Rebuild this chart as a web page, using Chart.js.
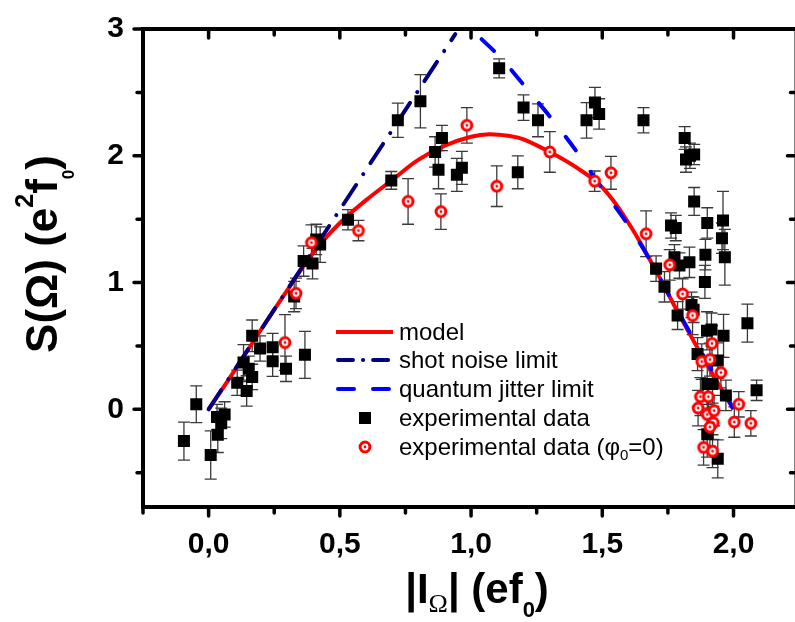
<!DOCTYPE html>
<html>
<head>
<meta charset="utf-8">
<title>S(Omega) vs |I_Omega|</title>
<script src="https://cdn.jsdelivr.net/npm/chart.js@4.4.1/dist/chart.umd.min.js"></script>
<style>
    html, body { margin: 0; padding: 0; background: #fff; overflow: hidden; }
    #wrap { width: 805px; height: 622px; }
</style>
</head>
<body>
<div id="wrap"><canvas id="noiseChart" width="805" height="622"></canvas></div>
<script>
// experimental data (black squares)
const expX = [-0.094, -0.047, 0.008, 0.035, 0.032, 0.048, 0.061, 0.109, 0.145, 0.133, 0.153, 0.166, 0.166, 0.196, 0.244, 0.244, 0.295, 0.367, 0.326, 0.362, 0.396, 0.425, 0.41,
    0.531, 0.696, 0.721, 0.807, 0.863, 0.889, 0.876, 0.946, 0.965, 1.107, 1.20, 1.255, 1.178, 1.44, 1.472, 1.488, 1.657,
    1.814, 1.819, 1.834, 1.85, 1.85, 1.762, 1.78, 1.90, 1.96, 1.956, 1.967, 1.893, 1.891, 1.705, 1.737, 1.775, 1.794, 1.832,
    1.787, 1.84, 1.848, 1.899, 1.916, 1.962, 2.053, 1.863, 1.94, 1.90, 1.92, 1.971, 2.088, 1.90, 1.94];
const expY = [-0.25, 0.04, -0.36, -0.20, -0.06, -0.11, -0.04, 0.21, 0.145, 0.37, 0.32, 0.256, 0.58, 0.48, 0.49, 0.38, 0.32, 0.43, 0.89, 1.17, 1.15, 1.30, 1.34,
    1.496, 1.806, 2.28, 2.43, 2.03, 2.14, 1.89, 1.85, 1.905, 2.69, 2.38, 2.28, 1.87, 2.28, 2.42, 2.33, 2.28,
    2.14, 1.97, 2.00, 2.01, 1.64, 1.45, 1.43, 1.47, 1.49, 1.35, 1.20, 1.22, 1.005, 1.11, 0.967, 1.20, 1.134, 1.16,
    0.74, 0.824, 0.785, 0.62, 0.63, 0.58, 0.68, 0.436, 0.385, 0.20, 0.20, 0.11, 0.15, -0.196, -0.39];
const expErr = [0.15, 0.145, 0.19, 0.14, 0.10, 0.12, 0.10, 0.10, 0.12, 0.14, 0.10, 0.10, 0.125, 0.10, 0.11, 0.12, 0.10, 0.185, 0.12, 0.12, 0.12, 0.14, 0.12,
    0.08, 0.07, 0.135, 0.21, 0.12, 0.10, 0.15, 0.13, 0.13, 0.075, 0.10, 0.13, 0.13, 0.14, 0.12, 0.12, 0.10,
    0.09, 0.10, 0.10, 0.08, 0.11, 0.10, 0.10, 0.12, 0.23, 0.12, 0.22, 0.12, 0.13, 0.10, 0.12, 0.10, 0.10, 0.12,
    0.11, 0.10, 0.10, 0.15, 0.13, 0.17, 0.15, 0.13, 0.14, 0.16, 0.15, 0.12, 0.08, 0.18, 0.15];

// experimental data with phi0 = 0 (red targets)
const zeroX = [0.291, 0.333, 0.392, 0.571, 0.76, 0.885, 0.984, 1.098, 1.30, 1.471, 1.533, 1.667, 1.757, 1.806, 1.844, 1.918,
    1.879, 1.91, 1.952, 1.874, 1.904, 1.865, 1.90, 1.926, 1.923, 1.91, 2.02, 2.003, 2.066, 1.886, 1.92];
const zeroY = [0.527, 0.915, 1.315, 1.41, 1.64, 1.56, 2.24, 1.76, 2.03, 1.80, 1.866, 1.385, 1.14, 0.91, 0.74, 0.52,
    0.377, 0.393, 0.29, 0.10, 0.10, 0.01, -0.04, -0.01, -0.106, -0.14, 0.04, -0.10, -0.11, -0.30, -0.33];
const zeroErr = [0.22, 0.12, 0.14, 0.08, 0.18, 0.14, 0.14, 0.16, 0.16, 0.08, 0.13, 0.18, 0.12, 0.12, 0.15, 0.14,
    0.14, 0.13, 0.12, 0.15, 0.12, 0.14, 0.15, 0.12, 0.13, 0.15, 0.10, 0.12, 0.10, 0.14, 0.13];

// model curve
const modelX = [0, 0.1, 0.2, 0.3, 0.4, 0.5, 0.6, 0.7, 0.8, 0.9, 1.0, 1.07, 1.15, 1.2, 1.3, 1.4, 1.5, 1.6, 1.7, 1.8, 1.9, 2.0];
const modelY = [0, 0.31, 0.63, 0.94, 1.24, 1.47, 1.65, 1.81, 1.97, 2.08, 2.15, 2.17, 2.155, 2.13, 2.03, 1.91, 1.75, 1.47, 1.11, 0.72, 0.35, 0];

// shot noise limit
const shotX = [0, 0.94];
const shotY = [0, 2.96];

// quantum jitter limit
const jitterX = [1.04, 1.11, 1.2, 1.3, 1.4, 1.5, 1.6, 1.67, 1.76, 1.83, 1.9, 1.96, 2.0];
const jitterY = [2.92, 2.78, 2.56, 2.31, 2.04, 1.74, 1.45, 1.22, 0.88, 0.62, 0.37, 0.15, 0];

// axis ticks
const xMajorTicks = [0, 0.5, 1, 1.5, 2];
const xMinorTicks = [-0.25, 0.25, 0.75, 1.25, 1.75];
const yMajorTicks = [0, 1, 2, 3];
const yMinorTicks = [-0.5, 0.5, 1.5, 2.5];

const SANS = "'Liberation Sans', Arial, sans-serif";

function toPoints(xs, ys) {
    return xs.map((x, i) => ({ x: x, y: ys[i] }));
}

// red target marker
function makeTarget() {
    const c = document.createElement('canvas');
    c.width = 16; c.height = 16;
    const g = c.getContext('2d');
    g.beginPath();
    g.arc(8, 8, 4.9, 0, Math.PI * 2);
    g.fillStyle = '#fff';
    g.fill();
    g.lineWidth = 3;
    g.strokeStyle = '#ff0000';
    g.stroke();
    g.beginPath();
    g.arc(8, 8, 1.4, 0, Math.PI * 2);
    g.fillStyle = '#ff0000';
    g.fill();
    return c;
}
const targetMarker = makeTarget();

// draws a run of text pieces with different fonts / offsets
function drawRich(ctx, parts, x, y) {
    let total = 0;
    parts.forEach(p => { ctx.font = p.font; total += ctx.measureText(p.t).width; });
    let cx = x - total / 2;
    ctx.textBaseline = 'alphabetic';
    ctx.textAlign = 'left';
    parts.forEach(p => {
        ctx.font = p.font;
        ctx.fillText(p.t, cx, y + (p.dy || 0));
        cx += ctx.measureText(p.t).width;
    });
}

const errorBars = {
    id: 'errorBars',
    beforeDatasetsDraw(chart) {
        const ctx = chart.ctx, xs = chart.scales.x, ys = chart.scales.y, a = chart.chartArea;
        ctx.save();
        ctx.beginPath();
        ctx.rect(a.left, a.top, a.right - a.left, a.bottom - a.top);
        ctx.clip();
        ctx.strokeStyle = '#3a3a3a';
        ctx.lineWidth = 1.3;
        chart.data.datasets.forEach(ds => {
            if (!ds.errors) return;
            ds.data.forEach((p, i) => {
                const px = xs.getPixelForValue(p.x);
                const top = ys.getPixelForValue(p.y + ds.errors[i]);
                const bot = ys.getPixelForValue(p.y - ds.errors[i]);
                ctx.beginPath();
                ctx.moveTo(px, top); ctx.lineTo(px, bot);
                ctx.moveTo(px - 6, top); ctx.lineTo(px + 6, top);
                ctx.moveTo(px - 6, bot); ctx.lineTo(px + 6, bot);
                ctx.stroke();
            });
        });
        ctx.restore();
    }
};

const frameAndText = {
    id: 'frameAndText',
    afterDatasetsDraw(chart) {
        const ctx = chart.ctx, xs = chart.scales.x, ys = chart.scales.y, a = chart.chartArea;
        ctx.save();
        ctx.strokeStyle = '#000';
        ctx.lineWidth = 4;
        ctx.strokeRect(a.left, a.top, a.right - a.left, a.bottom - a.top);

        // tick marks: outward on bottom/left, inward on top/right
        ctx.lineCap = 'round';
        ctx.lineWidth = 3.5;
        ctx.beginPath();
        const xt = xMajorTicks.map(v => [v, 9]).concat(xMinorTicks.map(v => [v, 6]));
        xt.forEach(([v, len]) => {
            const px = xs.getPixelForValue(v);
            ctx.moveTo(px, a.bottom); ctx.lineTo(px, a.bottom + len);
            ctx.moveTo(px, a.top); ctx.lineTo(px, a.top + len);
        });
        const yt = yMajorTicks.map(v => [v, 9]).concat(yMinorTicks.map(v => [v, 6]));
        yt.forEach(([v, len]) => {
            const py = ys.getPixelForValue(v);
            ctx.moveTo(a.left, py); ctx.lineTo(a.left - len, py);
            ctx.moveTo(a.right, py); ctx.lineTo(a.right - len, py);
        });
        ctx.stroke();
        ctx.restore();
    },
    afterDraw(chart) {
        const ctx = chart.ctx;
        const B42 = 'bold 42px ' + SANS;
        const B44 = 'bold 44px ' + SANS;
        ctx.save();
        ctx.fillStyle = '#000';

        // x axis title
        drawRich(ctx, [
            { t: '|I', font: B42 },
            { t: 'Ω', font: "26px 'Liberation Serif', serif", dy: 9 },
            { t: '| (ef', font: B42 },
            { t: '0', font: 'bold 22px ' + SANS, dy: 14 },
            { t: ')', font: B42 }
        ], 477, 603);

        // y axis title
        ctx.save();
        ctx.translate(57, 254);
        ctx.rotate(-Math.PI / 2);
        drawRich(ctx, [
            { t: 'S(Ω) (e', font: B44 },
            { t: '2', font: 'bold 25px ' + SANS, dy: -24 },
            { t: 'f', font: B44 },
            { t: '0', font: 'bold 17px ' + SANS, dy: 17 },
            { t: ')', font: B44 }
        ], 0, 0);
        ctx.restore();

        // legend
        const lx0 = 336, lx1 = 393, tx = 399;
        const rows = [332, 360, 389, 418, 447];
        ctx.lineWidth = 4;
        ctx.lineCap = 'butt';
        ctx.strokeStyle = '#ff0000';
        ctx.beginPath(); ctx.moveTo(lx0, rows[0]); ctx.lineTo(lx1, rows[0]); ctx.stroke();
        ctx.lineCap = 'round';
        ctx.strokeStyle = '#000080';
        ctx.setLineDash([15, 10, 0.1, 10]);
        ctx.beginPath(); ctx.moveTo(lx0 + 2, rows[1]); ctx.lineTo(lx1 - 1, rows[1]); ctx.stroke();
        ctx.strokeStyle = '#0000ff';
        ctx.setLineDash([16, 19]);
        ctx.beginPath(); ctx.moveTo(lx0 + 2, rows[2]); ctx.lineTo(lx1 - 1, rows[2]); ctx.stroke();
        ctx.setLineDash([]);
        ctx.fillStyle = '#000';
        ctx.fillRect(365 - 6, rows[3] - 6, 12, 12);
        ctx.drawImage(targetMarker, 365 - 8, rows[4] - 8);

        const R24 = '24px ' + SANS;
        ctx.fillStyle = '#000';
        ctx.textAlign = 'left';
        ctx.textBaseline = 'alphabetic';
        ctx.font = R24;
        ctx.fillText('model', tx, rows[0] + 8);
        ctx.fillText('shot noise limit', tx, rows[1] + 8);
        ctx.fillText('quantum jitter limit', tx, rows[2] + 8);
        ctx.fillText('experimental data', tx, rows[3] + 8);
        let s = 'experimental data (φ';
        ctx.fillText(s, tx, rows[4] + 8);
        let w = ctx.measureText(s).width;
        ctx.font = '15px ' + SANS;
        ctx.fillText('0', tx + w, rows[4] + 13);
        w += ctx.measureText('0').width;
        ctx.font = R24;
        ctx.fillText('=0)', tx + w, rows[4] + 8);
        ctx.restore();
    }
};

function initializeNoiseChart() {
    const ctx = document.getElementById('noiseChart');
    if (!ctx) return;

    new Chart(ctx, {
        type: 'scatter',
        data: {
            datasets: [{
                label: 'experimental data (φ0=0)',
                data: toPoints(zeroX, zeroY),
                errors: zeroErr,
                pointStyle: targetMarker,
                order: 0
            }, {
                label: 'experimental data',
                data: toPoints(expX, expY),
                errors: expErr,
                pointStyle: 'rect',
                pointRadius: 8.5,
                backgroundColor: '#000',
                borderWidth: 0,
                order: 1
            }, {
                type: 'line',
                label: 'quantum jitter limit',
                data: toPoints(jitterX, jitterY),
                borderColor: '#0000ff',
                borderWidth: 4,
                borderDash: [17, 26],
                borderCapStyle: 'round',
                tension: 0.3,
                pointRadius: 0,
                fill: false,
                order: 2
            }, {
                type: 'line',
                label: 'shot noise limit',
                data: toPoints(shotX, shotY),
                borderColor: '#000080',
                borderWidth: 4,
                borderDash: [23, 13, 0.1, 13],
                borderCapStyle: 'round',
                pointRadius: 0,
                fill: false,
                order: 3
            }, {
                type: 'line',
                label: 'model',
                data: toPoints(modelX, modelY),
                borderColor: '#ff0000',
                borderWidth: 4,
                tension: 0.4,
                pointRadius: 0,
                fill: false,
                order: 4
            }]
        },
        options: {
            responsive: false,
            animation: false,
            devicePixelRatio: 1,
            layout: { padding: { top: 21, right: 6, left: 0, bottom: 0 } },
            plugins: {
                legend: { display: false },
                tooltip: { enabled: false }
            },
            scales: {
                x: {
                    type: 'linear',
                    min: -0.25,
                    max: 2.24,
                    grid: { display: false },
                    border: { display: false },
                    afterBuildTicks: function(scale) {
                        scale.ticks = xMajorTicks.map(v => ({ value: v }));
                    },
                    afterFit: function(scale) { scale.height = 115; },
                    ticks: {
                        padding: 12,
                        color: '#000',
                        font: { family: SANS, size: 30, weight: 'bold' },
                        maxRotation: 0,
                        callback: function(value) {
                            return value.toFixed(1).replace('.', ',');
                        }
                    }
                },
                y: {
                    type: 'linear',
                    min: -0.77,
                    max: 3,
                    grid: { display: false },
                    border: { display: false },
                    afterBuildTicks: function(scale) {
                        scale.ticks = yMajorTicks.map(v => ({ value: v }));
                    },
                    afterFit: function(scale) { scale.width = 143; },
                    ticks: {
                        padding: 11,
                        color: '#000',
                        font: { family: SANS, size: 30, weight: 'bold' },
                        callback: function(value) { return String(value); }
                    }
                }
            }
        },
        plugins: [errorBars, frameAndText]
    });
}

document.addEventListener('DOMContentLoaded', initializeNoiseChart);
</script>
</body>
</html>
